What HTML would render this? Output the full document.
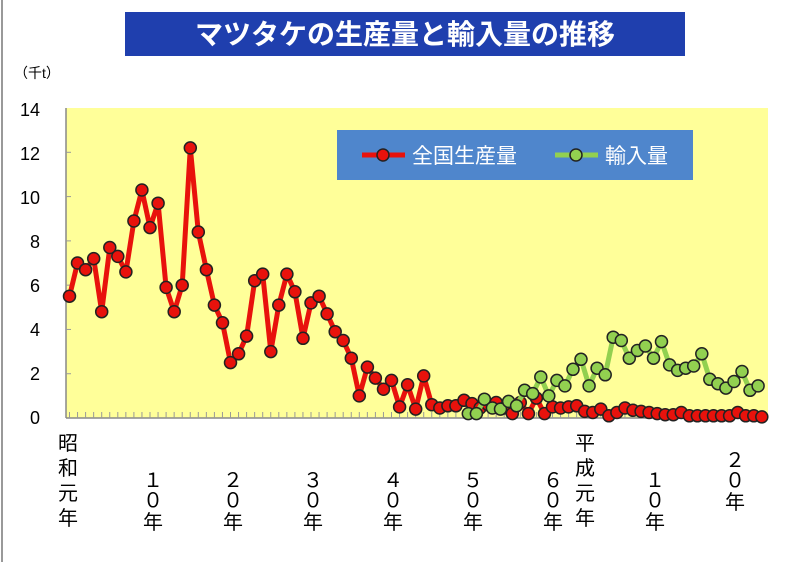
<!DOCTYPE html>
<html><head><meta charset="utf-8"><style>
html,body{margin:0;padding:0;background:#fff;}
svg text{font-family:"Liberation Sans","Noto Sans CJK JP",sans-serif;}
</style></head><body>
<svg id="s" width="787" height="562" viewBox="0 0 787 562" xmlns="http://www.w3.org/2000/svg">
<rect width="787" height="562" fill="#fff"/>
<line x1="2" y1="0" x2="2" y2="562" stroke="#999" stroke-width="2"/>
<rect x="125" y="12" width="560" height="44" fill="#1f3fae"/>
<text x="405" y="44" font-size="28" font-weight="bold" fill="#fff" text-anchor="middle">マツタケの生産量と輸入量の推移</text>
<text x="14" y="78" font-size="14" fill="#000">（千t）</text>
<rect x="66" y="108" width="702" height="310" fill="#ffff99"/>
<line x1="66" y1="108" x2="66" y2="418" stroke="#888" stroke-width="1.5"/>
<line x1="66" y1="418" x2="768" y2="418" stroke="#888" stroke-width="1.5"/>
<g id="ticks"></g>
<g font-size="18" fill="#000" text-anchor="end">
<text x="40" y="116">14</text><text x="40" y="160">12</text><text x="40" y="204">10</text>
<text x="40" y="248">8</text><text x="40" y="292">6</text><text x="40" y="336">4</text>
<text x="40" y="380">2</text><text x="40" y="424">0</text>
</g>
<rect x="337" y="130" width="356" height="50" fill="#4f86cc"/>
<line x1="362" y1="155" x2="405" y2="155" stroke="#e8120c" stroke-width="5"/>
<circle cx="383" cy="155" r="6" fill="#e8120c" stroke="#222" stroke-width="1.5"/>
<text x="412" y="163" font-size="21" fill="#fff">全国生産量</text>
<line x1="555" y1="155" x2="598" y2="155" stroke="#92d050" stroke-width="5"/>
<circle cx="576" cy="155" r="6" fill="#92d050" stroke="#222" stroke-width="1.5"/>
<text x="605" y="163" font-size="21" fill="#fff">輸入量</text>
<g id="series"></g>
<g font-size="20" fill="#000" text-anchor="middle">
<text x="68" y="450">昭</text><text x="68" y="475">和</text><text x="68" y="500">元</text><text x="68" y="525">年</text>
<text x="153" y="487">１</text><text x="153" y="507">０</text><text x="153" y="529">年</text>
<text x="233" y="487">２</text><text x="233" y="507">０</text><text x="233" y="529">年</text>
<text x="313" y="487">３</text><text x="313" y="507">０</text><text x="313" y="529">年</text>
<text x="393" y="487">４</text><text x="393" y="507">０</text><text x="393" y="529">年</text>
<text x="473" y="487">５</text><text x="473" y="507">０</text><text x="473" y="529">年</text>
<text x="553" y="487">６</text><text x="553" y="507">０</text><text x="553" y="529">年</text>
<text x="585" y="450">平</text><text x="585" y="475">成</text><text x="585" y="500">元</text><text x="585" y="525">年</text>
<text x="655" y="487">１</text><text x="655" y="507">０</text><text x="655" y="529">年</text>
<text x="735" y="467">２</text><text x="735" y="487">０</text><text x="735" y="509">年</text>
</g>
</svg>
<script>
var NS="http://www.w3.org/2000/svg";
function Y(v){return 418-v*22.14;}
var red=[5.5,7.0,6.7,7.2,4.8,7.7,7.3,6.6,8.9,10.3,8.6,9.7,5.9,4.8,6.0,12.2,8.4,6.7,5.1,4.3,2.5,2.9,3.7,6.2,6.5,3.0,5.1,6.5,5.7,3.6,5.2,5.5,4.7,3.9,3.5,2.7,1.0,2.3,1.8,1.3,1.7,0.5,1.5,0.4,1.9,0.6,0.45,0.55,0.55,0.8,0.65,0.45,0.6,0.7,0.45,0.2,0.7,0.2,0.9,0.2,0.5,0.45,0.5,0.55,0.3,0.25,0.4,0.1,0.25,0.45,0.35,0.3,0.25,0.2,0.15,0.15,0.25,0.1,0.1,0.1,0.1,0.1,0.1,0.25,0.1,0.1,0.05];
var green=[0.2,0.2,0.85,0.45,0.4,0.75,0.55,1.25,1.1,1.85,1.0,1.7,1.45,2.2,2.65,1.45,2.25,1.95,3.65,3.5,2.7,3.05,3.25,2.7,3.45,2.4,2.15,2.25,2.35,2.9,1.75,1.55,1.35,1.65,2.1,1.25,1.45];
var t=document.getElementById("ticks"),s="";
for(var i=0;i<88;i++){var x=69.5+8.05*i;if(x>768)break;s+='<line x1="'+x+'" y1="412" x2="'+x+'" y2="418" stroke="#999" stroke-width="1"/>';}
for(var v=2;v<14;v+=2){s+='<line x1="66" y1="'+Y(v)+'" x2="71" y2="'+Y(v)+'" stroke="#999"/>';}
t.innerHTML=s;
function ser(arr,x0,col){var p="",c="";arr.forEach(function(v,i){var x=x0+8.05*i,y=Y(v);p+=(i?"L":"M")+x.toFixed(1)+" "+y.toFixed(1);c+='<circle cx="'+x.toFixed(1)+'" cy="'+y.toFixed(1)+'" r="6" fill="'+col+'" stroke="#222" stroke-width="1.5"/>';});
return '<path d="'+p+'" fill="none" stroke="'+col+'" stroke-width="5" stroke-linejoin="round"/>'+c;}
document.getElementById("series").innerHTML=ser(red,69.5,"#e8120c")+ser(green,468.3,"#92d050");
</script>
</body></html>
